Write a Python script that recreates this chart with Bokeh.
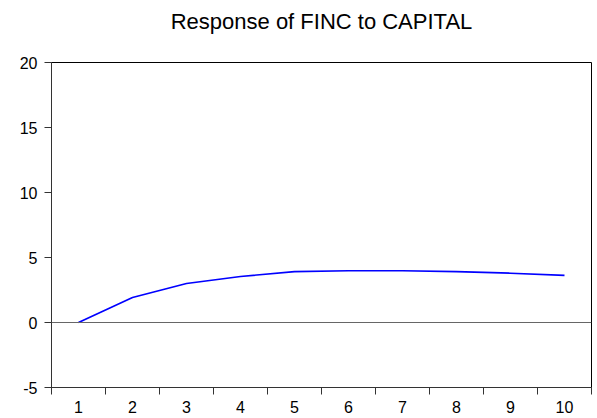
from bokeh.plotting import figure
from bokeh.models import FixedTicker, Span, Range1d, LinearAxis, Title, CustomJSTickFormatter
from bokeh.embed import file_html
from bokeh.resources import INLINE

periods = [1, 2, 3, 4, 5, 6, 7, 8, 9, 10]
response = [0.0, 1.92, 3.0, 3.54, 3.92, 3.98, 3.98, 3.92, 3.79, 3.62]
y_ticks = [-5, 0, 5, 10, 15, 20]
title_text = "Response of FINC to CAPITAL"

FONT = "Liberation Sans"

p = figure(width=597, height=418, output_backend="svg", toolbar_location=None,
           x_range=Range1d(0.5, 10.5), y_range=Range1d(-5, 20),
           min_border_left=51, min_border_right=6, min_border_top=62, min_border_bottom=31)

bottom_axis = p.below[0]
left_axis = p.left[0]

# invisible spacer between the title and the plot frame (one hidden tick so it takes room)
spacer = LinearAxis(ticker=FixedTicker(ticks=[5.5], minor_ticks=[]),
                    formatter=CustomJSTickFormatter(code="return ''"),
                    axis_line_alpha=0, major_tick_line_alpha=0, minor_tick_line_alpha=0,
                    major_tick_out=27, major_tick_in=0, minor_tick_out=0, minor_tick_in=0,
                    major_label_standoff=0, axis_label_standoff=0,
                    major_label_text_font_size="1px", major_label_text_alpha=0)
p.add_layout(spacer, "above")

title = Title(text=title_text, align="center", vertical_align="top", standoff=0,
              text_font=FONT, text_font_size="22px", text_font_style="normal",
              text_color="#000000")
p.add_layout(title, "above")

p.grid.visible = False
p.outline_line_color = "#000000"
p.outline_line_width = 1
p.background_fill_color = "#ffffff"
p.border_fill_color = "#ffffff"

bottom_axis.ticker = FixedTicker(ticks=periods,
                                 minor_ticks=[x - 0.5 for x in periods] + [10.5])
bottom_axis.major_tick_out = 0
bottom_axis.major_tick_in = 0
bottom_axis.minor_tick_out = 7
bottom_axis.minor_tick_in = 0
bottom_axis.minor_tick_line_color = "#333333"
bottom_axis.major_label_standoff = 6

left_axis.ticker = FixedTicker(ticks=y_ticks, minor_ticks=[])
left_axis.major_tick_out = 7
left_axis.major_tick_in = 0
left_axis.major_label_standoff = 7
left_axis.major_label_overrides = {t: str(t) for t in y_ticks}

for ax in (bottom_axis, left_axis):
    ax.axis_line_color = "#333333"
    ax.major_tick_line_color = "#333333"
    ax.major_label_text_font = FONT
    ax.major_label_text_font_size = "16px"
    ax.major_label_text_color = "#000000"

p.add_layout(Span(location=0, dimension="width", line_color="#666666", line_width=1))
p.line(periods, response, line_color="#0000ff", line_width=1.7)

open("out.html", "w").write(file_html(p, INLINE))
